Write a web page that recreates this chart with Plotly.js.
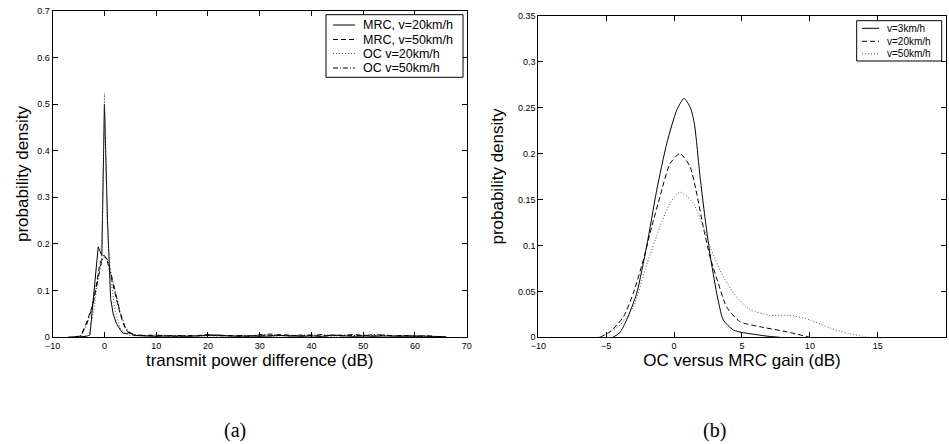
<!DOCTYPE html>
<html>
<head>
<meta charset="utf-8">
<script src="https://cdn.plot.ly/plotly-3.0.1.min.js"></script>
<style>html,body{margin:0;padding:0;background:#fff;}#chart{width:949px;height:444px;}</style>
</head>
<body>
<div id="chart"></div>
<script>
// ---------- Panel (a): transmit power difference ----------
const tailX = [8,10,12,14,16,18,20,22,24,26,28,30,32,34,36,38,40,42,44,46,48,50,52,54,56,58,60,62,64,66];

const mrc20X = [-7,-5,-3.5,-2.8,-2.0,-1.2,-0.5,0,0.6,1.2,1.7,2.3,3.0,3.6,4.3,4.9,5.6,6.2].concat(tailX);
const mrc20Y = [0,0.001,0.002,0.005,0.094,0.194,0.175,0.50,0.25,0.083,0.05,0.03,0.017,0.009,0.008,0.011,0.006,0.004,
  0.003,0.002,0.003,0.002,0.002,0.003,0.004,0.005,0.003,0.002,0.003,0.002,0.003,0.004,0.003,0.002,0.003,0.002,0.005,0.003,0.002,0.003,0.002,0.003,0.002,0.002,0.003,0.002,0.001,0.001];

const mrc50X = [-7,-5,-4.5,-3.4,-2.15,-1.2,-0.86,-0.1,0.43,1.07,2.0,3.0,4.0,4.9,5.6,6.5].concat(tailX);
const mrc50Y = [0,0.001,0.005,0.033,0.073,0.13,0.159,0.176,0.169,0.14,0.094,0.051,0.019,0.007,0.004,0.004,
  0.003,0.004,0.003,0.002,0.004,0.003,0.006,0.003,0.004,0.003,0.002,0.005,0.003,0.006,0.004,0.003,0.005,0.002,0.004,0.003,0.006,0.004,0.003,0.005,0.003,0.004,0.002,0.003,0.002,0.001];

const oc20X = [-6,-3,-2,-1,-0.5,0,0.5,1,2,3,4,5,6].concat(tailX);
const oc20Y = [0,0.004,0.06,0.15,0.17,0.523,0.25,0.15,0.06,0.02,0.008,0.004,0.003,
  0.002,0.003,0.002,0.002,0.003,0.002,0.003,0.002,0.002,0.003,0.002,0.003,0.002,0.003,0.002,0.002,0.003,0.002,0.003,0.002,0.002,0.003,0.002,0.002,0.003,0.002,0.002,0.001,0.001,0.001];

const oc50X = [-6,-4.5,-3.5,-2.5,-1.5,-0.5,0,0.5,1,2,3,4,5,6].concat(tailX);
const oc50Y = [0,0.004,0.025,0.06,0.11,0.165,0.172,0.168,0.15,0.1,0.055,0.022,0.008,0.005,
  0.004,0.005,0.003,0.004,0.003,0.004,0.005,0.004,0.003,0.004,0.003,0.005,0.007,0.004,0.003,0.005,0.004,0.006,0.003,0.005,0.004,0.003,0.006,0.004,0.003,0.004,0.002,0.003,0.002,0.001];

// ---------- Panel (b): OC versus MRC gain ----------
const v3X = [-4.5,-4.0,-3.49,-2.75,-2.02,-1.28,-0.54,0.19,0.73,1.2,1.5,1.91,2.27,2.64,3.14,3.62,4.36,5.1,6.0,7.0,7.8];
const v3Y = [0,0.005,0.019,0.048,0.099,0.16,0.211,0.247,0.26,0.25,0.232,0.175,0.131,0.091,0.048,0.019,0.008,0.005,0.003,0.001,0];

const v20X = [-5.46,-4.72,-3.74,-3.0,-2.27,-1.65,-1.04,-0.3,0.43,1.17,1.66,2.15,2.64,3.25,3.87,4.85,6.3,8.3,10.0];
const v20Y = [0,0.006,0.022,0.048,0.084,0.12,0.153,0.189,0.2,0.186,0.157,0.12,0.088,0.059,0.033,0.017,0.0116,0.006,0];

const v50X = [-5.6,-5.2,-4.0,-3.0,-2.0,-1.04,-0.3,0.43,1.41,2.15,2.64,3.38,4.36,5.59,7.06,8.53,10.0,11.5,12.9,14.4];
const v50Y = [0,0.002,0.013,0.033,0.08,0.12,0.146,0.158,0.146,0.12,0.099,0.073,0.048,0.03,0.024,0.024,0.019,0.01,0.004,0];

const legA = ["MRC, v=20km/h","MRC, v=50km/h","OC v=20km/h","OC v=50km/h"];
const legB = ["v=3km/h","v=20km/h","v=50km/h"];

const FONT = "Liberation Sans, Arial, Helvetica, sans-serif";
const W = 949, H = 444;

const SOLID = 'solid', DASH = '5px,3px', DOT = '1px,2px', DASHDOT = '5px,2px,1px,2px';
const stylesA = [[SOLID,'#000'],[DASH,'#000'],[DOT,'#555'],[DASHDOT,'#000']];
const stylesB = [[SOLID,'#000'],[DASH,'#000'],[DOT,'#555']];

function tr(x,y,name,st,xa,ya,shape){
  return {x:x,y:y,name:name,type:'scatter',mode:'lines',xaxis:xa,yaxis:ya,showlegend:false,
    line:{color:st[1],width:1,dash:st[0],shape:shape||'linear',smoothing:0.6},hoverinfo:'skip'};
}

const data = [
  tr(mrc20X,mrc20Y,legA[0],stylesA[0],'x','y'),
  tr(mrc50X,mrc50Y,legA[1],stylesA[1],'x','y'),
  tr(oc20X,oc20Y,legA[2],stylesA[2],'x','y'),
  tr(oc50X,oc50Y,legA[3],stylesA[3],'x','y'),
  tr(v3X,v3Y,legB[0],stylesB[0],'x2','y2','spline'),
  tr(v20X,v20Y,legB[1],stylesB[1],'x2','y2','spline'),
  tr(v50X,v50Y,legB[2],stylesB[2],'x2','y2','spline')
];

// Legend boxes built from the legend-name arrays (pixel layout -> paper coords)
const shapes = [], annotations = [];
function px(x){return x/W;} function py(y){return 1-y/H;}
function legendBox(names, styles, box, rowsY, lineX0, lineX1, textX, fsize){
  shapes.push({type:'rect',xref:'paper',yref:'paper',x0:px(box[0]),x1:px(box[1]),y0:py(box[3]),y1:py(box[2]),
    line:{color:'#000',width:1},fillcolor:'#fff',layer:'above'});
  names.forEach((n,i)=>{
    shapes.push({type:'line',xref:'paper',yref:'paper',x0:px(lineX0),x1:px(lineX1),y0:py(rowsY[i]),y1:py(rowsY[i]),
      line:{color:styles[i][1],width:1,dash:styles[i][0]},layer:'above'});
    annotations.push({text:n,xref:'paper',yref:'paper',x:px(textX),y:py(rowsY[i]),xanchor:'left',yanchor:'middle',
      showarrow:false,font:{family:FONT,size:fsize,color:'#000'}});
  });
}
legendBox(legA, stylesA, [326,463,14.7,77.3], [25,39.5,53.5,68], 333, 355, 361, 12.5);
legendBox(legB, stylesB, [856.7,941.7,20.7,61], [28.3,41.3,53.8], 862, 879, 885, 10);

annotations.push({text:'(a)',xref:'paper',yref:'paper',x:0.2476,y:0.0315,xanchor:'center',yanchor:'middle',showarrow:false,
  font:{family:'Liberation Serif, DejaVu Serif, serif',size:20,color:'#000'}});
annotations.push({text:'(b)',xref:'paper',yref:'paper',x:0.7534,y:0.0315,xanchor:'center',yanchor:'middle',showarrow:false,
  font:{family:'Liberation Serif, DejaVu Serif, serif',size:20,color:'#000'}});

function ax(extra){
  return Object.assign({showgrid:false,zeroline:false,showline:true,linecolor:'#000',linewidth:1,
    mirror:'ticks',ticks:'inside',ticklen:5,tickcolor:'#000',tickwidth:1,
    tickfont:{family:FONT,size:9,color:'#000'},fixedrange:true,automargin:false},extra);
}
const TF = {family:FONT,size:17,color:'#000'};

const layout = {
  width:W,height:H,margin:{l:0,r:0,t:0,b:0},
  paper_bgcolor:'#fff',plot_bgcolor:'#fff',
  font:{family:FONT,color:'#000'},
  showlegend:false,
  xaxis:ax({domain:[0.0555,0.4918],range:[-10,70],dtick:10,tick0:0,anchor:'y',
    title:{text:'transmit power difference (dB)',font:TF,standoff:2}}),
  yaxis:ax({domain:[0.2403,0.9759],range:[0,0.70001],dtick:0.1,tick0:0,anchor:'x',
    title:{text:'probability density',font:TF,standoff:4}}),
  xaxis2:ax({domain:[0.5672,0.9965],range:[-10,20],dtick:5,tick0:0,anchor:'y2',
    title:{text:'OC versus MRC gain (dB)',font:TF,standoff:2}}),
  yaxis2:ax({domain:[0.2403,0.9646],range:[0,0.35001],dtick:0.05,tick0:0,anchor:'x2',
    title:{text:'probability density',font:TF,standoff:9}}),
  shapes:shapes,
  annotations:annotations
};

Plotly.newPlot('chart',data,layout,{staticPlot:true,displayModeBar:false});
</script>
</body>
</html>
